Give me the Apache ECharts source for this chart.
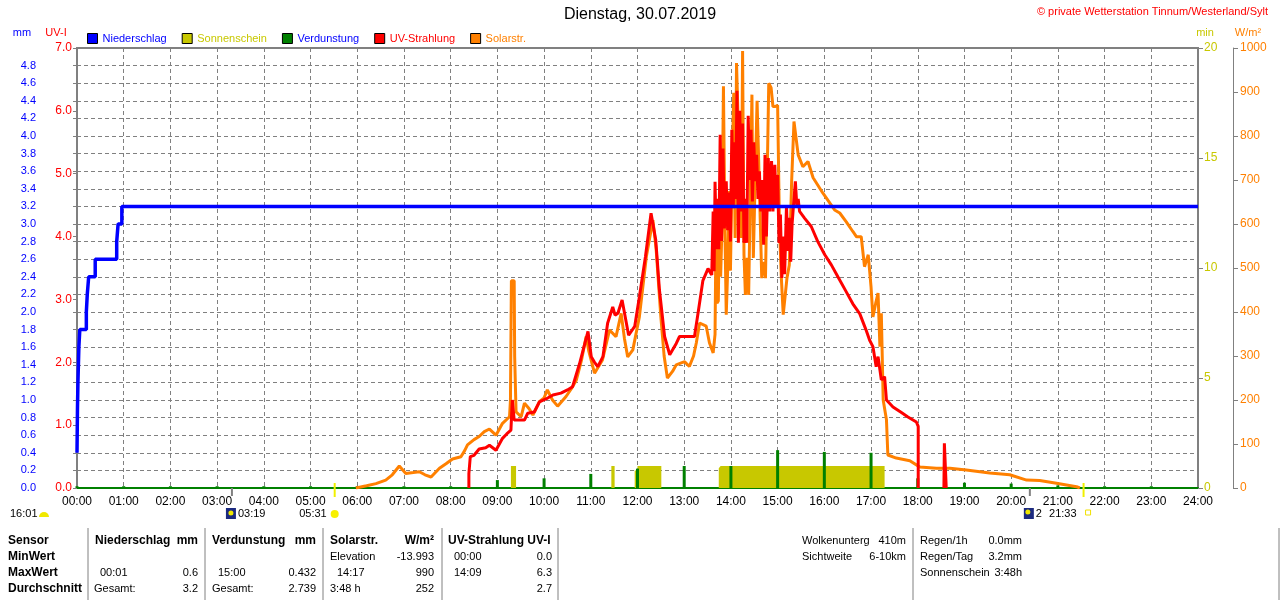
<!DOCTYPE html>
<html>
<head>
<meta charset="utf-8">
<title>Dienstag, 30.07.2019</title>
<script src="https://cdn.jsdelivr.net/npm/echarts@6/dist/echarts.min.js"></script>
<style>
  html, body { margin: 0; padding: 0; background: #fff; }
  #chart { width: 1280px; height: 600px; }
</style>
</head>
<body>
<div id="chart"></div>
<script>
// --- Daten (Zeit in Stunden, Wert) ---
const niederschlag = [
  [0, 0.4], [0.01, 0.9], [0.02, 1.2], [0.04, 1.6], [0.06, 1.8], [0.2, 2.0], [0.22, 2.2],
  [0.25, 2.4], [0.39, 2.6], [0.85, 2.8], [0.88, 3.0], [0.96, 3.2], [24, 3.2]
];

// Sonnenschein in min pro Minute
const sonnenschein = [
  [9.29, 0], [9.29, 1], [9.4, 1], [9.4, 0],
  [11.44, 0], [11.44, 1], [11.51, 1], [11.51, 0],
  [11.94, 0], [11.94, 0.8], [12.0, 0.8], [12.0, 1], [12.51, 1], [12.51, 0],
  [13.74, 0], [13.74, 0.9], [13.78, 0.9], [13.78, 1], [17.29, 1], [17.29, 0]
];

const verdunstungStunden = [0, 1, 2, 3, 4, 5, 6, 7, 8, 9, 10, 11, 12, 13, 14, 15, 16, 17, 18, 19, 20, 21, 22, 23];
const verdunstungWerte = [0.02, 0.02, 0.02, 0.02, 0.02, 0.02, 0.02, 0.02, 0.02, 0.09, 0.11, 0.16, 0.22, 0.25,
  0.25, 0.43, 0.41, 0.40, 0.11, 0.06, 0.05, 0.03, 0.02, 0.02];

const uvStrahlung = [
  [8.39, 0], [8.39, 0.23], [8.42, 0.5], [8.5, 0.52], [8.61, 0.62], [8.75, 0.64], [8.83, 0.68], [8.97, 0.6],
  [9.11, 0.79], [9.2, 0.86], [9.29, 0.92], [9.32, 1.4], [9.36, 1.08], [9.58, 1.08], [9.65, 1.19], [9.79, 1.21],
  [9.9, 1.37], [10.05, 1.42], [10.19, 1.48], [10.36, 1.51], [10.5, 1.56], [10.61, 1.61], [10.76, 1.98],
  [10.94, 2.49], [11.01, 2.09], [11.08, 2.0], [11.15, 1.93], [11.26, 2.09], [11.36, 2.62], [11.47, 2.88],
  [11.52, 2.75], [11.58, 2.78], [11.67, 2.99], [11.81, 2.43], [11.94, 2.57], [12.04, 3.04], [12.17, 3.68],
  [12.29, 4.37], [12.39, 3.95], [12.47, 3.15], [12.58, 2.41], [12.69, 2.12], [12.83, 2.3], [12.9, 2.41],
  [13.22, 2.41], [13.3, 2.8], [13.4, 3.3], [13.51, 3.49], [13.59, 3.39], [13.62, 4.4], [13.64, 3.45],
  [13.66, 4.87], [13.69, 3.8], [13.72, 4.6], [13.74, 3.8], [13.77, 5.62], [13.8, 3.93], [13.83, 5.4],
  [13.86, 4.13], [13.9, 4.88], [13.93, 4.1], [13.96, 4.7], [13.99, 3.92], [14.02, 5.7], [14.05, 4.45],
  [14.08, 5.5], [14.1, 4.6], [14.13, 6.32], [14.16, 3.9], [14.19, 6.0], [14.22, 4.4], [14.25, 5.8],
  [14.28, 3.9], [14.31, 4.6], [14.34, 3.9], [14.37, 5.92], [14.4, 4.9], [14.43, 5.7], [14.46, 4.56],
  [14.49, 5.5], [14.52, 4.88], [14.55, 5.3], [14.58, 4.6], [14.61, 5.04], [14.64, 4.4], [14.67, 4.9],
  [14.7, 3.87], [14.73, 5.3], [14.76, 4.0], [14.8, 5.25], [14.83, 4.4], [14.87, 5.2], [14.9, 4.4],
  [14.94, 5.14], [14.97, 4.5], [15.0, 4.98], [15.03, 3.9], [15.06, 4.35], [15.09, 3.34], [15.12, 4.0],
  [15.15, 3.4], [15.19, 4.5], [15.22, 3.77], [15.25, 4.3], [15.28, 3.6], [15.31, 4.2], [15.34, 4.5],
  [15.38, 4.88], [15.41, 4.5], [15.44, 4.6], [15.47, 4.4], [15.58, 4.29], [15.72, 4.16], [15.86, 3.92],
  [16.01, 3.71], [16.15, 3.55], [16.29, 3.36], [16.47, 3.12], [16.61, 2.93], [16.76, 2.77], [16.89, 2.52],
  [16.97, 2.35], [17.04, 2.25], [17.11, 1.93], [17.15, 2.09], [17.22, 1.72], [17.29, 1.77], [17.33, 1.4],
  [17.47, 1.29], [17.65, 1.2], [17.79, 1.13], [17.97, 1.05], [18.01, 0.98], [18.01, 0], [18.3, null],
  [18.56, 0], [18.57, 0.71], [18.6, 0.71], [18.61, 0]
];

const solarStrahlung = [
  [5.97, 0], [6.2, 5], [6.4, 10], [6.61, 18], [6.75, 30], [6.9, 50], [7.04, 33], [7.2, 35], [7.33, 37],
  [7.45, 30], [7.58, 25], [7.76, 45], [7.9, 55], [8.04, 66], [8.22, 71], [8.3, 85], [8.36, 98], [8.5, 110],
  [8.61, 117], [8.72, 128], [8.83, 134], [8.97, 120], [9.11, 147], [9.26, 162], [9.28, 200], [9.3, 471],
  [9.36, 471], [9.37, 300], [9.4, 173], [9.51, 162], [9.58, 193], [9.68, 180], [9.76, 166], [9.9, 196],
  [10.0, 205], [10.07, 223], [10.18, 200], [10.29, 186], [10.47, 208], [10.58, 225], [10.69, 245],
  [10.8, 290], [10.9, 344], [10.96, 310], [11.08, 261], [11.25, 291], [11.4, 359], [11.54, 344],
  [11.65, 397], [11.72, 340], [11.79, 298], [11.9, 314], [12.04, 389], [12.19, 526], [12.33, 609],
  [12.4, 541], [12.5, 389], [12.57, 300], [12.64, 250], [12.75, 265], [12.83, 280], [12.95, 285],
  [13.01, 287], [13.11, 276], [13.2, 300], [13.26, 330], [13.33, 375], [13.47, 368], [13.54, 330],
  [13.62, 307], [13.66, 349], [13.68, 576], [13.7, 420], [13.73, 425], [13.75, 576], [13.78, 480],
  [13.81, 600], [13.84, 913], [13.87, 600], [13.9, 394], [13.93, 494], [13.96, 675], [13.99, 494],
  [14.02, 689], [14.06, 898], [14.09, 568], [14.12, 966], [14.16, 966], [14.19, 700], [14.22, 568],
  [14.25, 993], [14.28, 530], [14.31, 439], [14.35, 523], [14.38, 439], [14.42, 700], [14.45, 894],
  [14.48, 523], [14.52, 705], [14.56, 880], [14.6, 880], [14.63, 600], [14.66, 477], [14.7, 514],
  [14.74, 477], [14.78, 477], [14.81, 920], [14.86, 910], [14.9, 867], [14.95, 867], [15.0, 870],
  [15.04, 591], [15.08, 477], [15.12, 394], [15.15, 394], [15.2, 477], [15.25, 507], [15.3, 697],
  [15.35, 833], [15.39, 832], [15.44, 757], [15.54, 730], [15.65, 742], [15.76, 705], [15.97, 670],
  [16.22, 632], [16.33, 625], [16.47, 605], [16.61, 583], [16.69, 571], [16.79, 571], [16.86, 503],
  [16.94, 530], [16.97, 526], [17.0, 457], [17.04, 389], [17.1, 420], [17.15, 443], [17.19, 321],
  [17.22, 397], [17.26, 200], [17.33, 155], [17.36, 75], [17.54, 68], [17.83, 62], [18.04, 48],
  [18.4, 45], [18.69, 45], [19.04, 41], [19.54, 34], [19.97, 30], [20.33, 18], [20.61, 17], [20.97, 11],
  [21.4, 3], [21.47, 0]
];

// Mond-/Sonnenzeiten unter der Achse
const mondAuf = 3.317, sonnenAuf = 5.517, mondUnter = 20.4, sonnenUnter = 21.55;

const FONT = '"Liberation Sans", Arial, sans-serif';
const GRAU = '#808080';

const chart = echarts.init(document.getElementById('chart'));

const option = {
  animation: false,
  backgroundColor: '#fff',
  textStyle: { fontFamily: FONT },
  grid: { left: 77, right: 82, top: 48, bottom: 112, show: true, borderColor: GRAU, borderWidth: 2 },
  legend: {
    left: 87, top: 33, padding: 0, itemWidth: 10, itemHeight: 10, itemGap: 15,
    icon: 'rect', selectedMode: false,
    itemStyle: { borderColor: '#000', borderWidth: 1 },
    textStyle: { fontSize: 11, fontFamily: FONT },
    data: [
      { name: 'Niederschlag', textStyle: { color: '#0000ff' } },
      { name: 'Sonnenschein', textStyle: { color: '#c8c800' } },
      { name: 'Verdunstung', textStyle: { color: '#0000ff' } },
      { name: 'UV-Strahlung', textStyle: { color: '#ff0000' } },
      { name: 'Solarstr.', textStyle: { color: '#ff8000' } }
    ]
  },
  xAxis: {
    type: 'value', min: 0, max: 24, interval: 1,
    axisLine: { show: true, lineStyle: { color: '#008000', width: 2 } },
    axisTick: { show: false },
    axisLabel: {
      color: '#000', fontSize: 12, margin: 8, showMaxLabel: true,
      formatter: v => (v < 10 ? '0' : '') + v + ':00'
    },
    splitLine: { show: true, lineStyle: { color: GRAU, type: [4, 3], width: 1 } }
  },
  yAxis: [
    {
      type: 'value', min: 0, max: 5, interval: 0.2, position: 'left', offset: 36,
      axisLine: { show: true, lineStyle: { color: GRAU, width: 1 } },
      axisTick: { show: true, length: 4, lineStyle: { color: GRAU } },
      axisLabel: { color: '#0000ff', fontSize: 11, margin: 5, formatter: v => v > 4.9 ? '' : v.toFixed(1) },
      splitLine: { show: true, lineStyle: { color: GRAU, type: [4, 3], width: 1 } }
    },
    {
      type: 'value', min: 0, max: 7, interval: 1, position: 'left', offset: 0,
      axisLine: { show: true, lineStyle: { color: GRAU, width: 2 } },
      axisTick: { show: true, length: 4, lineStyle: { color: GRAU } },
      axisLabel: { color: '#ff0000', fontSize: 12, margin: 5, formatter: v => v.toFixed(1) },
      splitLine: { show: false }
    },
    {
      type: 'value', min: 0, max: 20, interval: 5, position: 'right', offset: 0,
      axisLine: { show: true, lineStyle: { color: GRAU, width: 2 } },
      axisTick: { show: true, length: 5, lineStyle: { color: GRAU } },
      axisLabel: { color: '#c8c800', fontSize: 12, margin: 6, formatter: v => String(v) },
      splitLine: { show: false }
    },
    {
      type: 'value', min: 0, max: 1000, interval: 100, position: 'right', offset: 35,
      axisLine: { show: true, lineStyle: { color: GRAU, width: 1 } },
      axisTick: { show: true, length: 5, lineStyle: { color: GRAU } },
      axisLabel: { color: '#ff8000', fontSize: 12, margin: 7, formatter: v => String(v) },
      splitLine: { show: false }
    }
  ],
  series: [
    {
      name: 'Niederschlag', type: 'line', yAxisIndex: 0, step: 'end', data: niederschlag,
      symbol: 'none', color: '#0000ff', lineStyle: { width: 3.5, color: '#0000ff' }, z: 7
    },
    {
      name: 'Sonnenschein', type: 'line', yAxisIndex: 2, data: sonnenschein,
      symbol: 'none', color: '#c8c800', lineStyle: { width: 0 },
      areaStyle: { color: '#c8c800', opacity: 1 }, z: 2
    },
    {
      name: 'Verdunstung', type: 'bar', yAxisIndex: 0, barWidth: 3, color: '#008000',
      data: verdunstungStunden.map((h, i) => [h, verdunstungWerte[i]]), z: 3
    },
    {
      name: 'UV-Strahlung', type: 'line', yAxisIndex: 1, data: uvStrahlung, connectNulls: false,
      symbol: 'none', color: '#ff0000', lineStyle: { width: 3, color: '#ff0000' }, z: 5
    },
    {
      name: 'Solarstr.', type: 'line', yAxisIndex: 3, data: solarStrahlung,
      symbol: 'none', color: '#ff8000', lineStyle: { width: 3, color: '#ff8000' }, z: 4
    }
  ]
};

chart.setOption(option);

// --- Texte und Tabelle ---
function txt(x, y, s, o = {}) {
  return {
    type: 'text', x: x, y: y, silent: true, z: 10,
    style: {
      text: s, fill: o.color || '#000',
      font: (o.bold ? 'bold ' : '') + (o.size || 11) + 'px ' + FONT,
      textAlign: o.align || 'left', textVerticalAlign: 'middle'
    }
  };
}
function linie(x1, y1, x2, y2, farbe, w) {
  return { type: 'line', silent: true, z: 10, shape: { x1, y1, x2, y2 }, style: { stroke: farbe, lineWidth: w || 1 } };
}

const px = h => chart.convertToPixel({ xAxisIndex: 0 }, h);
const g = [];

g.push(txt(640, 15, 'Dienstag, 30.07.2019', { size: 16, align: 'center' }));
g.push(txt(1268, 12, '© private Wetterstation Tinnum/Westerland/Sylt', { color: '#ff0000', align: 'right' }));
g.push(txt(22, 33, 'mm', { color: '#0000ff', align: 'center' }));
g.push(txt(56, 33, 'UV-I', { color: '#ff0000', align: 'center' }));
g.push(txt(1205, 33, 'min', { color: '#c8c800', align: 'center' }));
g.push(txt(1248, 33, 'W/m²', { color: '#ff8000', align: 'center' }));

// Sonnen-/Mondmarken
g.push(txt(10, 514, '16:01'));
g.push({ type: 'sector', silent: true, z: 10, shape: { cx: 44, cy: 517, r: 5, startAngle: Math.PI, endAngle: 2 * Math.PI },
  style: { fill: '#f0e800' } });
const xm1 = px(mondAuf);
g.push(linie(xm1, 488, xm1, 496, GRAU, 2));
g.push({ type: 'rect', silent: true, z: 10, shape: { x: xm1 - 6, y: 508, width: 10, height: 11 }, style: { fill: '#1c2a80' } });
g.push({ type: 'circle', silent: true, z: 11, shape: { cx: xm1 - 1, cy: 513, r: 2.5 }, style: { fill: '#f0e800' } });
g.push(txt(xm1 + 6, 514, '03:19'));
const xs1 = px(sonnenAuf);
g.push(linie(xs1, 483, xs1, 497, '#f0f000', 2));
g.push(txt(xs1 - 8, 514, '05:31', { align: 'right' }));
g.push({ type: 'circle', silent: true, z: 10, shape: { cx: xs1, cy: 514, r: 4 }, style: { fill: '#f8f000' } });
const xm2 = px(mondUnter);
g.push(linie(xm2, 488, xm2, 496, GRAU, 2));
g.push({ type: 'rect', silent: true, z: 10, shape: { x: xm2 - 6, y: 508, width: 10, height: 11 }, style: { fill: '#1c2a80' } });
g.push({ type: 'circle', silent: true, z: 11, shape: { cx: xm2 - 2, cy: 512, r: 2.5 }, style: { fill: '#f0e800' } });
g.push(txt(xm2 + 6, 514, '2'));
const xs2 = px(sonnenUnter);
g.push(linie(xs2, 483, xs2, 497, '#f0f000', 2));
g.push(txt(xs2 - 7, 514, '21:33', { align: 'right' }));
g.push({ type: 'rect', silent: true, z: 10, shape: { x: xs2 + 2, y: 510, width: 5, height: 5 },
  style: { fill: '#fff', stroke: '#f0e000', lineWidth: 1 } });

// Tabelle
[88, 205, 323, 442, 558, 913, 1279].forEach(x => g.push(linie(x, 528, x, 600, GRAU, 1)));
const rows = [541, 557, 573, 589];
g.push(txt(8, rows[0], 'Sensor', { bold: true, size: 12 }));
g.push(txt(8, rows[1], 'MinWert', { bold: true, size: 12 }));
g.push(txt(8, rows[2], 'MaxWert', { bold: true, size: 12 }));
g.push(txt(8, rows[3], 'Durchschnitt', { bold: true, size: 12 }));

g.push(txt(95, rows[0], 'Niederschlag', { bold: true, size: 12 }));
g.push(txt(198, rows[0], 'mm', { bold: true, size: 12, align: 'right' }));
g.push(txt(100, rows[2], '00:01'));
g.push(txt(198, rows[2], '0.6', { align: 'right' }));
g.push(txt(94, rows[3], 'Gesamt:'));
g.push(txt(198, rows[3], '3.2', { align: 'right' }));

g.push(txt(212, rows[0], 'Verdunstung', { bold: true, size: 12 }));
g.push(txt(316, rows[0], 'mm', { bold: true, size: 12, align: 'right' }));
g.push(txt(218, rows[2], '15:00'));
g.push(txt(316, rows[2], '0.432', { align: 'right' }));
g.push(txt(212, rows[3], 'Gesamt:'));
g.push(txt(316, rows[3], '2.739', { align: 'right' }));

g.push(txt(330, rows[0], 'Solarstr.', { bold: true, size: 12 }));
g.push(txt(434, rows[0], 'W/m²', { bold: true, size: 12, align: 'right' }));
g.push(txt(330, rows[1], 'Elevation'));
g.push(txt(434, rows[1], '-13.993', { align: 'right' }));
g.push(txt(337, rows[2], '14:17'));
g.push(txt(434, rows[2], '990', { align: 'right' }));
g.push(txt(330, rows[3], '3:48 h'));
g.push(txt(434, rows[3], '252', { align: 'right' }));

g.push(txt(448, rows[0], 'UV-Strahlung UV-I', { bold: true, size: 12 }));
g.push(txt(454, rows[1], '00:00'));
g.push(txt(552, rows[1], '0.0', { align: 'right' }));
g.push(txt(454, rows[2], '14:09'));
g.push(txt(552, rows[2], '6.3', { align: 'right' }));
g.push(txt(552, rows[3], '2.7', { align: 'right' }));

g.push(txt(802, rows[0], 'Wolkenunterg'));
g.push(txt(906, rows[0], '410m', { align: 'right' }));
g.push(txt(802, rows[1], 'Sichtweite'));
g.push(txt(906, rows[1], '6-10km', { align: 'right' }));
g.push(txt(920, rows[0], 'Regen/1h'));
g.push(txt(1022, rows[0], '0.0mm', { align: 'right' }));
g.push(txt(920, rows[1], 'Regen/Tag'));
g.push(txt(1022, rows[1], '3.2mm', { align: 'right' }));
g.push(txt(920, rows[2], 'Sonnenschein'));
g.push(txt(1022, rows[2], '3:48h', { align: 'right' }));

chart.setOption({ graphic: g });
window.addEventListener('resize', () => chart.resize());
</script>
</body>
</html>
